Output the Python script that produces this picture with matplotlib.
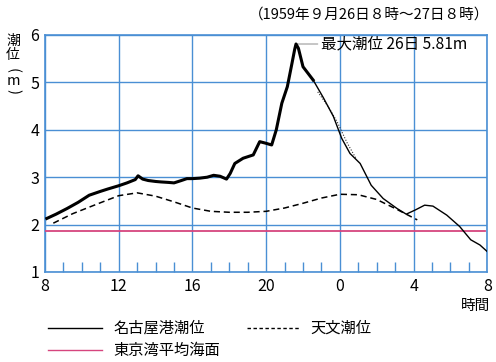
import matplotlib
matplotlib.use("Agg")
import matplotlib.pyplot as plt
from matplotlib.lines import Line2D

plt.rcParams['font.family'] = ['Noto Sans CJK JP', 'DejaVu Sans']

# ---- data (hours from 26th 0h; 24 = 27th 0h) ----
obs_t = [8.1, 8.6, 9.2, 9.8, 10.4, 11.0, 11.4, 12.0, 12.45, 12.9, 13.05, 13.3, 13.6,
         14.0, 14.3, 14.7, 15.0, 15.4, 15.7, 16.0, 16.4, 16.8, 17.15, 17.5, 17.85,
         18.05, 18.3, 18.75, 19.3, 19.65, 19.95, 20.3, 20.55, 20.85, 21.15, 21.4,
         21.55, 21.62, 21.75, 22.0, 22.55, 23.1, 23.65, 24.1, 24.55, 25.1, 25.7,
         26.35, 27.1, 27.6, 28.1, 28.6, 29.05, 29.8, 30.5, 31.1, 31.6, 32.0]
obs_v = [2.13, 2.22, 2.34, 2.47, 2.62, 2.70, 2.75, 2.82, 2.88, 2.95, 3.03, 2.96, 2.93,
         2.91, 2.90, 2.89, 2.88, 2.93, 2.97, 2.97, 2.98, 3.00, 3.04, 3.02, 2.96,
         3.08, 3.29, 3.40, 3.47, 3.75, 3.72, 3.68, 4.00, 4.56, 4.91, 5.40,
         5.70, 5.81, 5.72, 5.33, 5.05, 4.68, 4.28, 3.82, 3.50, 3.29, 2.83,
         2.55, 2.34, 2.22, 2.31, 2.41, 2.39, 2.20, 1.96, 1.68, 1.57, 1.43]
thick_until = 22.55  # observed trace is drawn bold up to here

astro_t = [8.45, 9.5, 11, 12, 13, 14, 15, 16, 17, 18, 19, 20, 21, 22, 23, 24, 25,
           26, 27, 28.2]
astro_v = [2.03, 2.23, 2.46, 2.61, 2.67, 2.60, 2.48, 2.35, 2.28, 2.26, 2.26, 2.28,
           2.35, 2.45, 2.56, 2.64, 2.63, 2.53, 2.34, 2.10]

dotted_t = [22.8, 23.4, 23.85, 24.4, 24.9]
dotted_v = [4.80, 4.47, 4.17, 3.72, 3.38]

tokyo_mean = 1.87
tokyo_t = [8, 31.9]

xticks = [8, 12, 16, 20, 24, 28, 32]
xticklabels = ['8', '12', '16', '20', '0', '4', '8']
yticks = [1, 2, 3, 4, 5, 6]

peak_t, peak_v = 21.62, 5.81

title = '（1959年９月26日８時～27日８時）'
peak_label = '最大潮位 26日 5.81m'
legend_obs = '名古屋港潮位'
legend_astro = '天文潮位'
legend_tokyo = '東京湾平均海面'
xlabel = '時間'

# ---- figure ----
W, H = 496, 362
fig = plt.figure(figsize=(W / 100, H / 100), dpi=100)
ax = fig.add_axes([45 / W, 1 - 272 / H, (487.3 - 45) / W, (272 - 35) / H])

blue = '#4a8fd4'
pink = '#d6457e'

ax.set_xlim(8, 32)
ax.set_ylim(1, 6)
ax.set_xticks(xticks)
ax.set_xticklabels(xticklabels)
ax.set_yticks(yticks)
ax.set_xticks(list(range(8, 33)), minor=True)
ax.tick_params(axis='x', which='minor', direction='in', length=7, width=1, color=blue)
ax.tick_params(axis='both', which='major', length=0, labelsize=11.5, pad=4)
ax.grid(True, which='major', color=blue, linewidth=1)
for s in ax.spines.values():
    s.set_color(blue)
    s.set_linewidth(1.2)

ax.plot(tokyo_t, [tokyo_mean, tokyo_mean], color=pink, linewidth=1.3, zorder=3)
ax.plot(astro_t, astro_v, color='black', linewidth=1.1, linestyle=(0, (4, 2.5)), zorder=4)
ax.plot(dotted_t, dotted_v, color='#333333', linewidth=0.8, linestyle=(0, (1, 1.5)), zorder=4)

k = max(i for i, t in enumerate(obs_t) if t <= thick_until)
ax.plot(obs_t[:k + 1], obs_v[:k + 1], color='black', linewidth=2.2, zorder=5,
        solid_joinstyle='round')
ax.plot(obs_t[k:], obs_v[k:], color='black', linewidth=1.0, zorder=5)

# peak annotation
ax.annotate(peak_label, xy=(peak_t, peak_v), xytext=(22.95, peak_v),
            va='center', ha='left', fontsize=11.2,
            arrowprops=dict(arrowstyle='-', color='#9a9a9a', linewidth=0.8,
                            shrinkA=0, shrinkB=1))

# texts
fig.text(489 / W, 1 - 15 / H, title, ha='right', va='center', fontsize=10.5)
fig.text(490 / W, 1 - 306 / H, xlabel, ha='right', va='center', fontsize=10.5)
# vertical y label: 潮 位 （ m ）
fig.text(13 / W, 1 - 41 / H, '潮', ha='center', va='center', fontsize=10)
fig.text(13 / W, 1 - 55.5 / H, '位', ha='center', va='center', fontsize=10)
fig.text(13 / W, 1 - 71 / H, '(', ha='center', va='center', fontsize=10.5, rotation=-90,
         rotation_mode='anchor')
fig.text(13 / W, 1 - 81 / H, 'm', ha='center', va='center', fontsize=10.5)
fig.text(13 / W, 1 - 91 / H, ')', ha='center', va='center', fontsize=10.5, rotation=-90,
         rotation_mode='anchor')

# legend
def legend_row(x0, x1, xt, y, text, **kw):
    fig.add_artist(Line2D([x0 / W, x1 / W], [1 - y / H, 1 - y / H], transform=fig.transFigure, **kw))
    fig.text(xt / W, 1 - y / H, text, ha='left', va='center', fontsize=11)

legend_row(48, 102, 113, 328, legend_obs, color='black', linewidth=1.0)
legend_row(247, 300, 310, 328, legend_astro, color='black', linewidth=1.0, linestyle=(0, (2.5, 1.8)))
legend_row(48, 102, 113, 350, legend_tokyo, color=pink, linewidth=1.0)

fig.savefig('out.png', dpi=100)
